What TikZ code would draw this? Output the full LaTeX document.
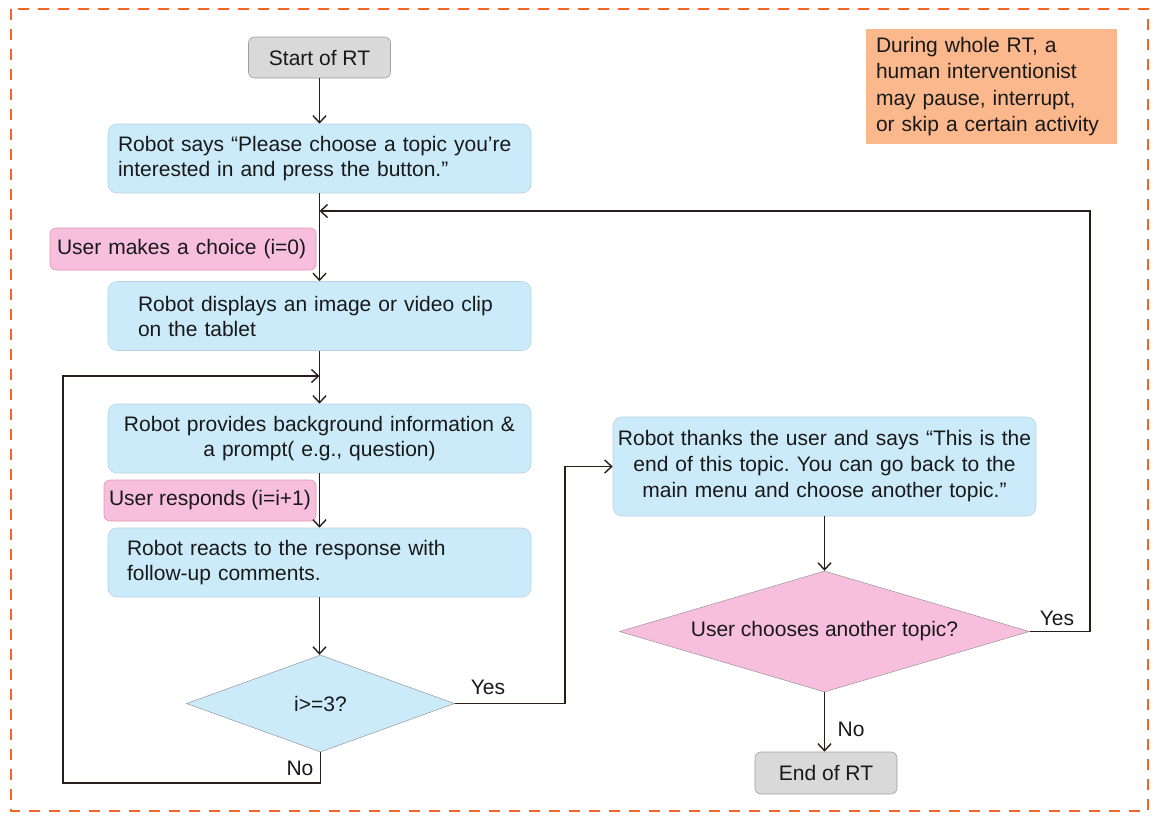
\documentclass[tikz,border=0pt]{standalone}
\usepackage{fontspec}
\setmainfont{Liberation Sans}
\usetikzlibrary{shapes.geometric,arrows.meta}
\definecolor{boxblue}{RGB}{204,235,250}
\definecolor{boxedge}{RGB}{185,210,225}
\definecolor{pinkf}{RGB}{247,190,222}
\definecolor{pinkedge}{RGB}{225,150,175}
\definecolor{grayf}{RGB}{217,217,217}
\definecolor{grayedge}{RGB}{160,160,160}
\definecolor{diaedge}{RGB}{150,150,150}
\definecolor{notef}{RGB}{251,184,140}
\definecolor{borderc}{RGB}{242,101,34}
\definecolor{linec}{RGB}{40,30,25}
\frenchspacing
\begin{document}
\begin{tikzpicture}[x=1pt,y=-1pt,
  every node/.style={font=\fontsize{21}{25}\selectfont, text=black!90},
  rbox/.style={rectangle, rounded corners=9pt, fill=boxblue, draw=boxedge, line width=0.6pt, minimum height=69pt, minimum width=423pt, inner ysep=0pt},
  pbox/.style={rectangle, rounded corners=6pt, fill=pinkf, draw=pinkedge, line width=0.6pt, minimum height=42pt, inner ysep=0pt},
  gbox/.style={rectangle, rounded corners=6pt, fill=grayf, draw=grayedge, line width=0.6pt, minimum height=41pt, minimum width=142pt, align=center},
  dia/.style={diamond, inner sep=0pt, line width=0.5pt, draw=diaedge},
  notebox/.style={rectangle, fill=notef, minimum width=251pt, minimum height=115pt, inner xsep=10pt, text width=231pt, align=left, font=\fontsize{21}{26.5}\selectfont},
  conn/.style={draw=linec, line width=1.4pt},
  arr/.style={conn, -{Straight Barb[length=7pt,width=13pt]}},
  lbl/.style={inner sep=0pt}
]
\useasboundingbox (0,0) rectangle (1153,815);
\draw[borderc, line width=2.5pt, dash pattern=on 11pt off 9pt] (11,9) rectangle (1148,811);

\node[gbox] (start) at (319.5,57.5) {Start of RT};
\node[rbox, inner xsep=10pt, text width=403pt, align=left] (b1) at (319.5,158.5) {Robot says “Please choose a topic you’re\\interested in and press the button.”};
\node[pbox, minimum width=266pt, inner xsep=7pt, text width=252pt, align=left] (p1) at (183,249) {User makes a choice (i=0)};
\node[rbox, inner xsep=30pt, text width=363pt, align=left] (b2) at (319.5,316) {Robot displays an image or video clip\\on the tablet};
\node[rbox, inner xsep=8pt, text width=407pt, align=center] (b3) at (319.5,438.5) {Robot provides background information \&\\a prompt( e.g., question)};
\node[pbox, minimum width=212pt, minimum height=41pt, inner xsep=1pt, align=center] (p2) at (210,500.5) {User responds (i=i+1)};
\node[rbox, inner xsep=19pt, text width=385pt, align=left] (b4) at (319.5,562.5) {Robot reacts to the response with\\follow-up comments.};
\node[dia, fill=boxblue, minimum width=268pt, minimum height=97pt, aspect=2.76] (d1) at (320.5,703.5) {i>=3?};
\node[rbox, minimum height=99pt, inner xsep=4pt, text width=415pt, align=center, font=\fontsize{21}{26}\selectfont] (b5) at (824.5,466.5) {Robot thanks the user and says “This is the\\end of this topic. You can go back to the\\main menu and choose another topic.”};
\node[dia, fill=pinkf, minimum width=410pt, minimum height=121pt, aspect=3.39] (d2) at (824.5,631.5) {User chooses another topic?};
\node[gbox, minimum height=42pt] (end) at (826,773) {End of RT};
\node[notebox] (note) at (991.5,86.5) {During whole RT, a\\human interventionist\\may pause, interrupt,\\or skip a certain activity};

\coordinate (m1) at (319.5,211);
\coordinate (m2) at (319.5,376);
\coordinate (c1) at (63,783);
\coordinate (c2) at (565,703.5);
\coordinate (c3) at (1090,631.5);

\draw[arr] (start.south) -- (b1.north);
\draw[arr] (b1.south) -- (b2.north);
\draw[arr] (b2.south) -- (b3.north);
\draw[arr] (b3.south) -- (b4.north);
\draw[arr] (b4.south) -- (b4.south |- d1.north);
\draw[arr] (d1.south) |- (c1) |- (m2);
\draw[arr] (d1.east) -- (c2) |- (b5.west);
\draw[arr] (b5.south) -- (d2.north);
\draw[arr] (d2.east) -- (c3) |- (m1);
\draw[arr] (d2.south) -- (d2.south |- end.north);

\node[lbl] (yes1) at (488,687) {Yes};
\node[lbl] (no1) at (300,768) {No};
\node[lbl] (yes2) at (1057,618) {Yes};
\node[lbl] (no2) at (851,729) {No};
\end{tikzpicture}
\end{document}
